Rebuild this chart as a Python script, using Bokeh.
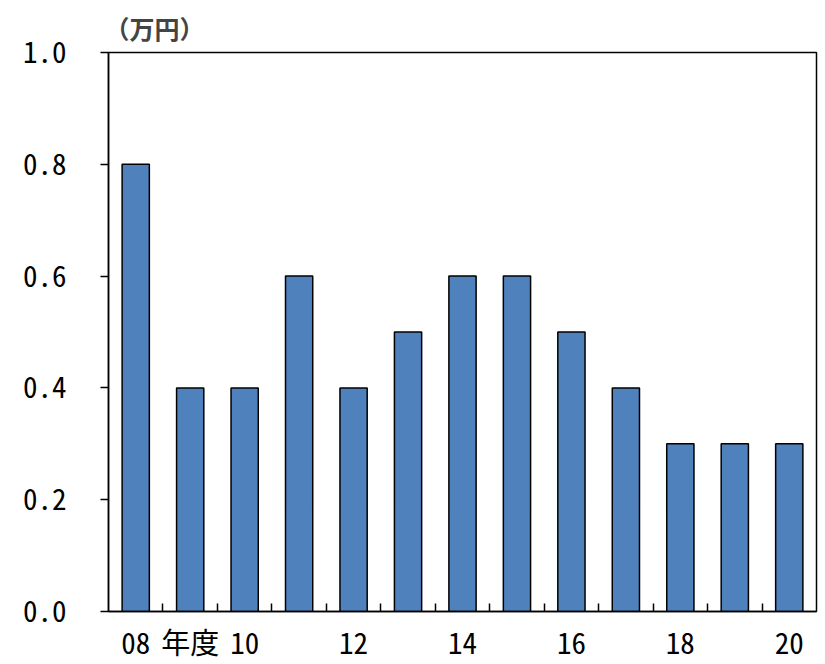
from bokeh.plotting import figure
from bokeh.models import FixedTicker, Range1d, ColumnDataSource
from bokeh.embed import file_html
from bokeh.resources import INLINE

years = ["08", "09", "10", "11", "12", "13", "14", "15", "16", "17", "18", "19", "20"]
x_tick_labels = ["08", "年度", "10", "", "12", "", "14", "", "16", "", "18", "", "20"]
values = [0.8, 0.4, 0.4, 0.6, 0.4, 0.5, 0.6, 0.6, 0.5, 0.4, 0.3, 0.3, 0.3]
y_ticks = [0.0, 0.2, 0.4, 0.6, 0.8, 1.0]
y_tick_labels = ["0.0", "0.2", "0.4", "0.6", "0.8", "1.0"]
unit = "（万円）"

n = len(years)
xs = [i + 0.5 for i in range(n)]
src = ColumnDataSource(dict(x=xs, top=values, year=years))

FONT = "'Noto Sans Mono CJK JP', 'DejaVu Sans Mono', monospace"

p = figure(frame_width=708, frame_height=559, output_backend="svg", toolbar_location=None,
           x_range=Range1d(0, n), y_range=Range1d(0, 1.0),
           min_border_left=108, min_border_right=6, min_border_top=52, min_border_bottom=44)

p.vbar(x="x", top="top", width=0.5, bottom=0, source=src,
       fill_color="#4F81BD", line_color="black", line_width=1.5)

p.grid.visible = False
p.outline_line_color = "black"
p.outline_line_width = 1.5
p.background_fill_color = "white"
p.border_fill_color = "white"

xa = p.xaxis[0]
xa.ticker = FixedTicker(ticks=xs, minor_ticks=list(range(1, n)))
xa.major_label_overrides = {x: lbl for x, lbl in zip(xs, x_tick_labels)}
xa.major_tick_line_color = None
xa.minor_tick_in = 8
xa.minor_tick_out = 0
xa.minor_tick_line_color = "black"
xa.minor_tick_line_width = 1.5
xa.axis_line_color = "black"
xa.axis_line_width = 1.5
xa.major_label_text_font = FONT
xa.major_label_text_font_size = "29px"
xa.major_label_text_color = "black"
xa.major_label_standoff = 2

ya = p.yaxis[0]
ya.ticker = FixedTicker(ticks=y_ticks, minor_ticks=[])
ya.major_label_overrides = {v: lbl for v, lbl in zip(y_ticks, y_tick_labels)}
ya.major_tick_in = 0
ya.major_tick_out = 8
ya.major_tick_line_color = "black"
ya.major_tick_line_width = 1.5
ya.minor_tick_line_color = None
ya.axis_line_color = "black"
ya.axis_line_width = 1.5
ya.major_label_text_font = FONT
ya.major_label_text_font_size = "29px"
ya.major_label_text_color = "black"
ya.major_label_standoff = 34

p.title.text = unit
p.title.text_font = "Noto Sans CJK JP"
p.title.text_font_size = "25px"
p.title.text_font_style = "bold"
p.title.align = "left"
p.title.offset = -4
p.title.standoff = 13

open("out.html", "w").write(file_html(p, INLINE))
